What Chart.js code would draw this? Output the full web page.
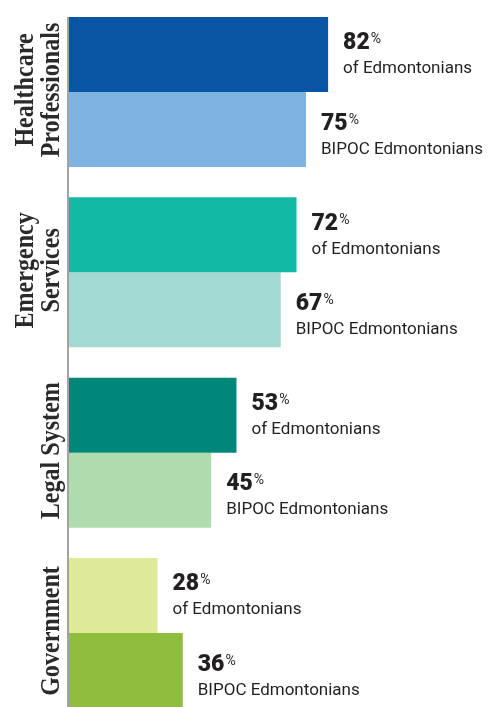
<!DOCTYPE html>
<html>
<head>
<meta charset="utf-8">
<script src="https://cdn.jsdelivr.net/npm/chart.js@4.4.0/dist/chart.umd.min.js"></script>
<style>
  html, body { margin: 0; padding: 0; background: #fff; }
  #wrap { width: 492px; height: 707px; }
</style>
</head>
<body>
<div id="wrap"><canvas id="trust"></canvas></div>
<script>
// categories (multi-line labels drawn rotated on the left)
const groups = [['Healthcare', 'Professionals'], ['Emergency', 'Services'], ['Legal System'], ['Government']];
// percentages
const allEdmontonians = [82, 72, 53, 28];
const bipocEdmontonians = [75, 67, 45, 36];
const seriesNames = ['of Edmontonians', 'BIPOC Edmontonians'];
const allColors = ['#0a56a5', '#12b9a5', '#00877a', '#e0e899'];
const bipocColors = ['#7fb3e0', '#a2d9d1', '#b0dbae', '#8fbe3d'];

const textColor = '#231f20';

// value labels to the right of each bar
const valueLabels = {
    id: 'valueLabels',
    afterDatasetsDraw(chart) {
        const ctx = chart.ctx;
        ctx.save();
        ctx.fillStyle = textColor;
        ctx.textAlign = 'left';
        ctx.textBaseline = 'alphabetic';
        chart.data.datasets.forEach(function (ds, di) {
            const meta = chart.getDatasetMeta(di);
            // second bar of each group sits a bit lower in the original
            const numOff = di === 0 ? -5 : 0;
            const descOff = di === 0 ? 19 : 24;
            meta.data.forEach(function (bar, i) {
                const x = bar.x + 15;
                const num = String(ds.data[i]);
                ctx.font = '900 23px Roboto';
                ctx.fillText(num, x, bar.y + numOff);
                const w = ctx.measureText(num).width;
                ctx.font = '14px Roboto';
                ctx.fillText('%', x + w + 1, bar.y + numOff - 6);
                ctx.font = '17px Roboto';
                ctx.fillText(seriesNames[di], x, bar.y + descOff);
            });
        });
        ctx.restore();
    }
};

// grey axis line and rotated group labels
const groupAxis = {
    id: 'groupAxis',
    beforeDatasetsDraw(chart) {
        const ctx = chart.ctx;
        const first = chart.getDatasetMeta(0).data[0];
        const top = first.y - first.height / 2;
        ctx.save();
        ctx.strokeStyle = '#a3a3a3';
        ctx.lineWidth = 2;
        ctx.beginPath();
        ctx.moveTo(chart.chartArea.left - 1, top);
        ctx.lineTo(chart.chartArea.left - 1, chart.height);
        ctx.stroke();

        const yScale = chart.scales.y;
        ctx.fillStyle = '#2a2a2a';
        ctx.textAlign = 'center';
        ctx.textBaseline = 'alphabetic';
        ctx.font = 'bold 28px "Liberation Serif"';
        groups.forEach(function (lines, i) {
            const cy = yScale.getPixelForValue(i);
            lines.forEach(function (line, li) {
                const baseX = 59 - (lines.length - 1 - li) * 26;
                ctx.save();
                ctx.translate(baseX, cy - 2);
                ctx.rotate(-Math.PI / 2);
                ctx.scale(0.86, 1);
                ctx.fillText(line, 0, 0);
                ctx.restore();
            });
        });
        ctx.restore();
    }
};

new Chart(document.getElementById('trust'), {
    type: 'bar',
    data: {
        labels: groups,
        datasets: [{
            label: seriesNames[0],
            data: allEdmontonians,
            backgroundColor: allColors
        }, {
            label: seriesNames[1],
            data: bipocEdmontonians,
            backgroundColor: bipocColors
        }]
    },
    options: {
        indexAxis: 'y',
        responsive: true,
        maintainAspectRatio: false,
        animation: false,
        layout: { padding: { left: 69, right: 107, top: 92, bottom: 74 } },
        datasets: {
            bar: {
                categoryPercentage: 0.832,
                barPercentage: 1,
                borderWidth: 0,
                clip: false
            }
        },
        scales: {
            x: { display: false, min: 0, max: 100 },
            y: { display: false, offset: false }
        },
        plugins: {
            legend: { display: false },
            tooltip: { enabled: false }
        }
    },
    plugins: [groupAxis, valueLabels]
});
</script>
</body>
</html>
